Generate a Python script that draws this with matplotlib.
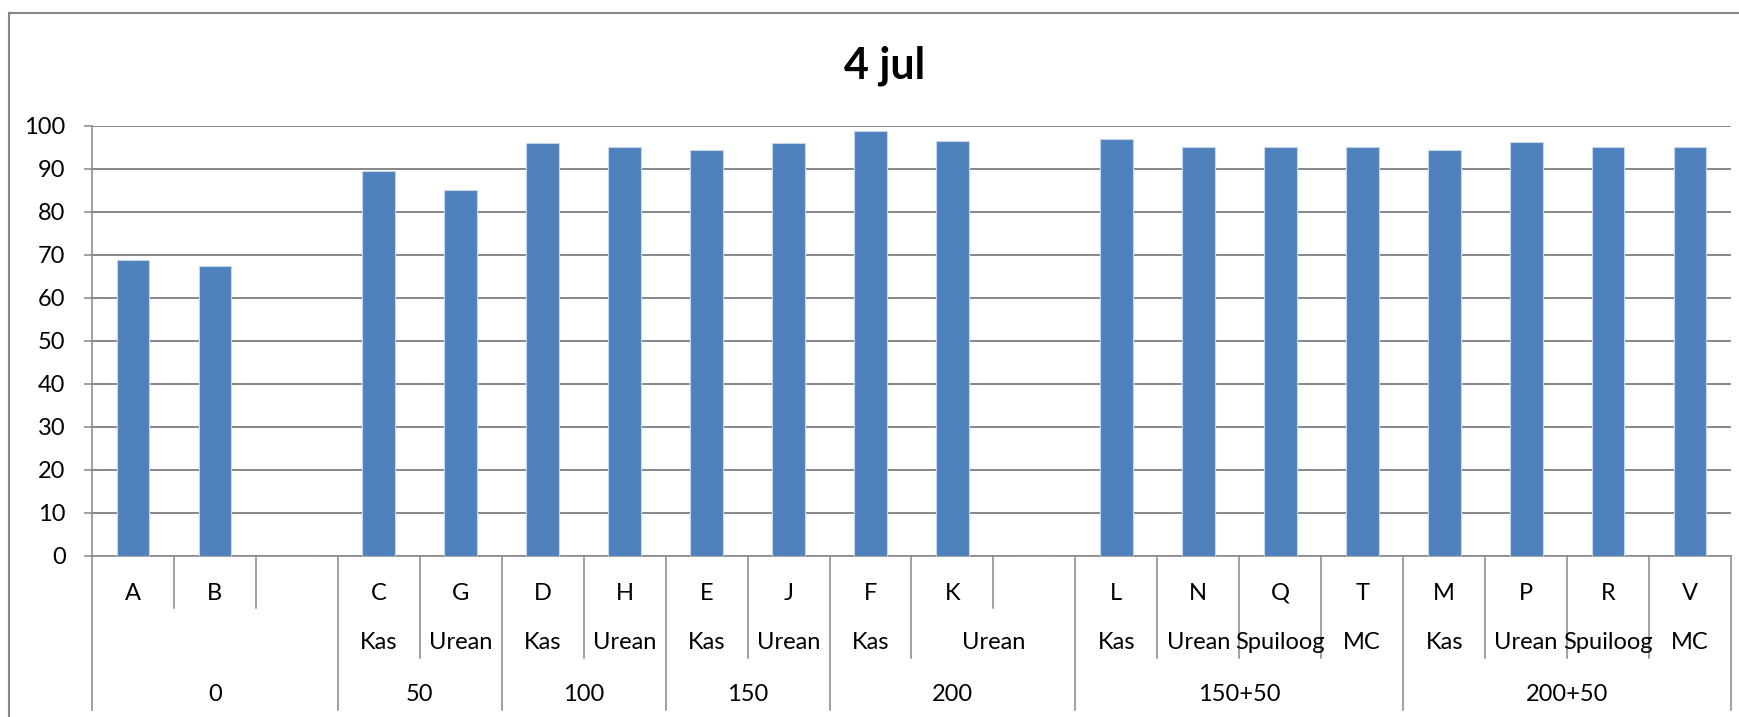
import numpy as np
import matplotlib.pyplot as plt
from matplotlib.lines import Line2D
from matplotlib.transforms import blended_transform_factory

plt.rcParams['font.family'] = ['Lato', 'DejaVu Sans']

# category levels (one entry per slot, '' = empty slot)
plots = ['A', 'B', '', 'C', 'G', 'D', 'H', 'E', 'J', 'F', 'K', '',
         'L', 'N', 'Q', 'T', 'M', 'P', 'R', 'V']
fertilizer = ['', '', '', 'Kas', 'Urean', 'Kas', 'Urean', 'Kas', 'Urean', 'Kas', 'Urean', 'Urean',
              'Kas', 'Urean', 'Spuiloog', 'MC', 'Kas', 'Urean', 'Spuiloog', 'MC']
dose = ['0', '0', '0', '50', '50', '100', '100', '150', '150', '200', '200', '200',
        '150+50', '150+50', '150+50', '150+50', '200+50', '200+50', '200+50', '200+50']
values = [68.7, 67.4, np.nan, 89.4, 85.0, 96.0, 95.0, 94.4, 96.0, 98.7, 96.4, np.nan,
          96.9, 95.0, 95.0, 95.0, 94.4, 96.2, 95.0, 95.0]

grey = '#878787'
blue = '#4F81BD'

fig = plt.figure(figsize=(17.4, 7.17), dpi=100)
ax = fig.add_axes([92 / 1740, 1 - 556 / 717, (1731 - 92) / 1740, (556 - 125.7) / 717])

x = np.arange(len(plots))
ax.bar(x, np.nan_to_num(values), width=0.4, color=blue, edgecolor='#C5D5EA', linewidth=0.8, zorder=3)

ax.set_xlim(-0.5, len(plots) - 0.5)
ax.set_ylim(0, 100)
ax.set_yticks(range(0, 101, 10))
ax.yaxis.grid(True, color=grey, linewidth=1.4)
ax.set_axisbelow(True)
ax.tick_params(axis='y', length=6, width=1.1, color=grey, pad=13, labelsize=17)
ax.set_xticks([])
for s in ['top', 'right']:
    ax.spines[s].set_visible(False)
for s in ['left', 'bottom']:
    ax.spines[s].set_color(grey)
    ax.spines[s].set_linewidth(1.1)

# multi-level category axis
trans = blended_transform_factory(ax.transData, ax.transAxes)
row_bottom = [-0.1208, -0.237, -0.358]
label_y = [-0.086, -0.202, -0.323]

n = len(plots)
for k in range(n + 1):
    if k == 0 or k == n or dose[k] != dose[k - 1]:
        depth = 3
    elif fertilizer[k] != fertilizer[k - 1]:
        depth = 2
    else:
        depth = 1
    ax.plot([k - 0.5, k - 0.5], [0, row_bottom[depth - 1]], color=grey, lw=1.1,
            transform=trans, clip_on=False)

def spans(keys):
    out = []
    start = 0
    for i in range(1, n + 1):
        if i == n or keys[i] != keys[start]:
            out.append((start, i - 1))
            start = i
    return out

for i, lab in enumerate(plots):
    ax.text(i, label_y[0], lab, ha='center', va='center', fontsize=17, transform=trans)

for a, b in spans(list(zip(dose, fertilizer))):
    ax.text((a + b) / 2, label_y[1], fertilizer[a], ha='center', va='center', fontsize=17, transform=trans)

for a, b in spans(dose):
    ax.text((a + b) / 2, label_y[2], dose[a], ha='center', va='center', fontsize=17, transform=trans)

fig.text(884.5 / 1740, 1 - 78 / 717, '4 jul', ha='center', va='baseline', fontsize=31, fontweight='bold')

# chart area border (cropped on right and bottom)
fig.add_artist(Line2D([9 / 1740, 9 / 1740], [0, 1 - 13 / 717], color=grey, lw=1.5))
fig.add_artist(Line2D([9 / 1740, 1], [1 - 13 / 717, 1 - 13 / 717], color=grey, lw=1.5))

fig.savefig('out.png', dpi=100)
